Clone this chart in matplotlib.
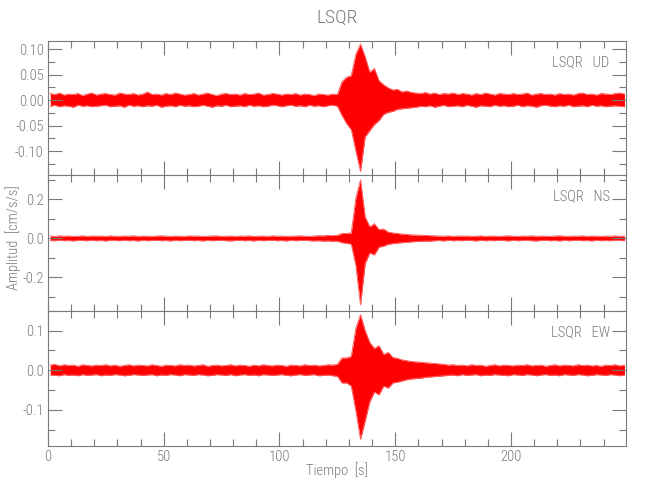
import numpy as np
import matplotlib
matplotlib.use("Agg")
import matplotlib.pyplot as plt
from matplotlib.ticker import MultipleLocator, FormatStrFormatter

plt.rcParams['font.family'] = ['Roboto Condensed', 'DejaVu Sans']
plt.rcParams['font.weight'] = 'light'
plt.rcParams['axes.unicode_minus'] = False

# --- data: min / max of the trace in 2 s bins (units: 1e-3 cm/s/s) ---
bin_start = np.arange(0, 250, 2)   # s

ud_hi = [13, 11, 14, 10, 12, 11, 13, 9, 12, 14,
         10, 12, 13, 11, 10, 14, 12, 11, 13, 10,
         12, 16, 11, 12, 10, 13, 11, 14, 12, 10,
         11, 13, 10, 12, 14, 11, 9, 12, 13, 11,
         12, 10, 13, 11, 12, 14, 10, 11, 13, 12,
         10, 12, 11, 13, 10, 12, 11, 9, 12, 11,
         10, 12, 11, 36, 45, 48, 90, 110, 85, 55,
         62, 38, 30, 24, 20, 21, 16, 18, 15, 14,
         13, 15, 12, 14, 11, 13, 12, 14, 11, 13,
         12, 10, 13, 11, 14, 12, 10, 13, 12, 11,
         13, 11, 12, 14, 10, 12, 13, 11, 12, 10,
         13, 11, 12, 10, 13, 14, 11, 12, 10, 13,
         12, 11, 13, 14, 12]
ud_lo = [-12, -10, -13, -11, -12, -14, -10, -12, -11, -13,
         -12, -11, -10, -13, -12, -11, -14, -10, -12, -11,
         -13, -11, -12, -10, -14, -12, -11, -13, -10, -12,
         -11, -13, -12, -10, -12, -14, -11, -12, -10, -13,
         -12, -11, -13, -10, -12, -11, -13, -12, -10, -11,
         -13, -11, -10, -12, -11, -13, -10, -12, -11, -13,
         -11, -10, -12, -30, -46, -58, -100, -140, -72, -60,
         -48, -40, -28, -24, -22, -18, -17, -16, -15, -14,
         -12, -13, -11, -14, -12, -10, -13, -12, -11, -13,
         -10, -12, -14, -11, -12, -13, -10, -12, -11, -13,
         -12, -10, -13, -11, -12, -14, -11, -10, -12, -13,
         -11, -12, -10, -13, -12, -11, -13, -10, -12, -11,
         -13, -12, -11, -12, -13]

ns_hi = [12, 10, 13, 11, 12, 10, 11, 13, 10, 12,
         11, 12, 10, 13, 11, 10, 12, 11, 13, 10,
         12, 11, 10, 12, 13, 11, 10, 12, 11, 10,
         13, 11, 12, 10, 11, 12, 13, 10, 11, 12,
         10, 12, 11, 13, 10, 11, 12, 10, 13, 11,
         12, 10, 11, 12, 13, 11, 10, 12, 14, 13,
         15, 14, 16, 25, 25, 28, 207, 300, 110, 60,
         75, 45, 48, 32, 28, 25, 22, 20, 18, 17,
         16, 15, 14, 13, 12, 11, 13, 10, 12, 11,
         12, 10, 11, 13, 10, 12, 11, 10, 12, 13,
         11, 10, 12, 11, 13, 10, 12, 11, 10, 12,
         13, 11, 10, 12, 11, 13, 10, 12, 11, 10,
         12, 11, 13, 10, 12]
ns_lo = [-11, -12, -10, -12, -11, -13, -10, -11, -12, -10,
         -12, -11, -13, -10, -11, -12, -10, -12, -11, -13,
         -10, -12, -11, -10, -12, -11, -13, -10, -12, -11,
         -10, -12, -11, -13, -10, -12, -11, -10, -12, -13,
         -11, -10, -12, -11, -13, -10, -12, -11, -10, -12,
         -11, -13, -10, -12, -11, -10, -12, -13, -12, -14,
         -13, -15, -14, -22, -25, -30, -140, -340, -130, -75,
         -85, -45, -40, -30, -27, -24, -22, -20, -18, -16,
         -15, -14, -14, -12, -11, -13, -10, -12, -11, -12,
         -10, -11, -13, -10, -12, -11, -12, -10, -11, -13,
         -10, -12, -11, -10, -12, -13, -11, -10, -12, -11,
         -13, -10, -12, -11, -10, -12, -11, -13, -10, -12,
         -11, -12, -10, -11, -12]

ew_hi = [13, 15, 11, 14, 12, 13, 10, 14, 12, 11,
         13, 12, 14, 11, 13, 10, 12, 14, 11, 13,
         12, 11, 14, 12, 10, 13, 12, 11, 14, 12,
         13, 11, 12, 14, 10, 12, 13, 11, 12, 14,
         11, 13, 12, 10, 13, 11, 14, 12, 11, 13,
         12, 10, 13, 12, 11, 14, 12, 13, 11, 12,
         14, 13, 15, 31, 31, 35, 106, 140, 100, 70,
         55, 62, 40, 45, 32, 30, 26, 24, 22, 21,
         20, 19, 18, 17, 16, 15, 13, 14, 12, 13,
         11, 14, 12, 13, 10, 12, 14, 11, 13, 12,
         11, 13, 12, 14, 11, 12, 13, 10, 12, 14,
         11, 13, 12, 11, 14, 12, 13, 11, 12, 10,
         13, 12, 14, 11, 13]
ew_lo = [-12, -13, -14, -11, -13, -12, -14, -11, -13, -12,
         -11, -14, -12, -13, -11, -12, -14, -13, -11, -12,
         -13, -12, -11, -14, -12, -13, -11, -12, -14, -11,
         -12, -13, -11, -12, -14, -13, -11, -12, -13, -11,
         -14, -12, -11, -13, -12, -14, -11, -12, -13, -12,
         -11, -13, -14, -12, -11, -13, -12, -11, -14, -13,
         -12, -14, -15, -32, -32, -40, -103, -174, -128, -80,
         -55, -62, -40, -45, -32, -30, -27, -24, -22, -21,
         -20, -18, -17, -16, -15, -14, -13, -12, -14, -11,
         -13, -12, -11, -14, -12, -13, -11, -12, -13, -14,
         -11, -12, -13, -11, -12, -14, -12, -11, -13, -12,
         -14, -11, -12, -13, -11, -12, -14, -13, -11, -12,
         -13, -11, -12, -14, -12]

components = ['UD', 'NS', 'EW']
trace_hi = [ud_hi, ns_hi, ew_hi]
trace_lo = [ud_lo, ns_lo, ew_lo]
y_limits = [(-0.147, 0.116), (-0.371, 0.325), (-0.191, 0.150)]
y_major = [0.05, 0.2, 0.1]
y_fmt = ['%.2f', '%.1f', '%.1f']
station = 'LSQR'
t_end = 249.6

grey = '#7a7a7a'

fig = plt.figure(figsize=(6.5, 5.0), dpi=100)
panel_box = [(0.0738, 0.650, 0.889, 0.268),
             (0.0738, 0.3786, 0.889, 0.2714),
             (0.0738, 0.108, 0.889, 0.2706)]

for k, comp in enumerate(components):
    ax = fig.add_axes(panel_box[k])
    hi = np.array(trace_hi[k]) / 1000.0
    lo = np.array(trace_lo[k]) / 1000.0
    tc = bin_start + 1.0

    # min/max band of the record, pink fringe on the edges
    ax.fill_between(tc, lo, hi, color='red', lw=0)
    ax.plot(tc, hi, color='#ff6060', lw=0.7)
    ax.plot(tc, lo, color='#ff6060', lw=0.7)

    ax.set_xlim(0, t_end)
    ax.set_ylim(*y_limits[k])
    ax.xaxis.set_major_locator(MultipleLocator(50))
    ax.xaxis.set_minor_locator(MultipleLocator(10))
    ax.yaxis.set_major_locator(MultipleLocator(y_major[k]))
    ax.yaxis.set_minor_locator(MultipleLocator(y_major[k] / 2))
    ax.yaxis.set_major_formatter(FormatStrFormatter(y_fmt[k]))
    ax.tick_params(which='both', direction='in', top=True, right=True,
                   colors=grey, labelsize=10.5, labelcolor=grey)
    ax.tick_params(which='major', length=10, width=0.8, pad=3)
    ax.tick_params(which='minor', length=5, width=0.8)
    for sp in ax.spines.values():
        sp.set_color(grey)
        sp.set_linewidth(0.8)
    if k < 2:
        ax.tick_params(labelbottom=False)

    ax.text(0.972, 0.84, station + '   ' + comp, transform=ax.transAxes,
            ha='right', va='center', fontsize=10.5, color=grey)

fig.text(0.519, 0.964, station, ha='center', va='center', fontsize=14, color=grey)
fig.text(0.519, 0.06, 'Tiempo  [s]', ha='center', va='center', fontsize=10.5, color=grey)
fig.text(0.02, 0.524, 'Amplitud  [cm/s/s]', ha='center', va='center',
         rotation=90, fontsize=10.5, color=grey)

fig.savefig('out.png', dpi=100)
